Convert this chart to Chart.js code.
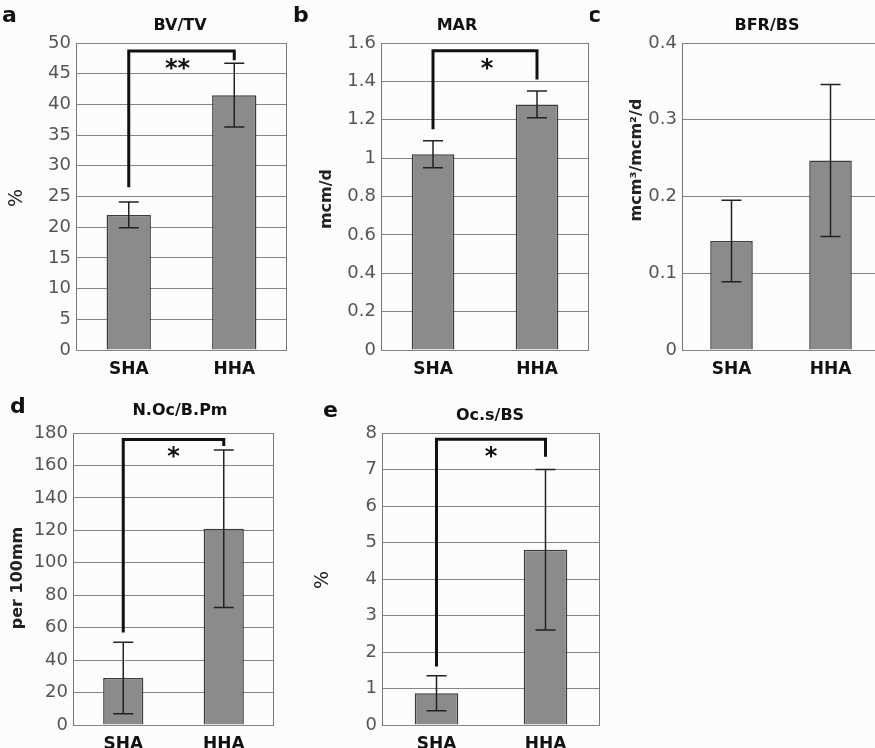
<!DOCTYPE html>
<html>
<head>
<meta charset="utf-8">
<script src="https://cdn.jsdelivr.net/npm/chart.js"></script>
<style>
  html, body { margin: 0; padding: 0; background: #fcfcfc; width: 875px; height: 748px; overflow: hidden; }
  .panel { position: absolute; }
</style>
</head>
<body>
<div class="panel" id="pa"><canvas id="ca"></canvas></div>
<div class="panel" id="pb"><canvas id="cb"></canvas></div>
<div class="panel" id="pc"><canvas id="cc"></canvas></div>
<div class="panel" id="pd"><canvas id="cd"></canvas></div>
<div class="panel" id="pe"><canvas id="ce"></canvas></div>
<script>
'use strict';

var categories = ['SHA', 'HHA'];

// a  BV/TV
var bvtvMean = [22, 41.5];
var bvtvErr = [2.1, 5.2];
var bvtvSig = [26.5, 48.7, 47.2];
// b  MAR
var marMean = [1.02, 1.28];
var marErr = [0.07, 0.07];
var marSig = [1.15, 1.56, 1.41];
// c  BFR/BS
var bfrMean = [0.142, 0.247];
var bfrErr = [0.053, 0.099];
// d  N.Oc/B.Pm
var nocMean = [29, 121];
var nocErr = [22, 48.5];
var nocSig = [57, 176, 172];
// e  Oc.s/BS
var ocsMean = [0.87, 4.8];
var ocsErr = [0.48, 2.2];
var ocsSig = [1.6, 7.83, 7.35];

var FONT = '"DejaVu Sans", "Liberation Sans", Arial, sans-serif';

var extras = {
  id: 'extras',
  afterDatasetsDraw: function(chart, args, o) {
    var ctx = chart.ctx;
    var area = chart.chartArea;
    var x = chart.scales.x;
    var y = chart.scales.y;
    var bx = o.box.x, by = o.box.y;
    ctx.save();

    // right frame line
    ctx.strokeStyle = '#777';
    ctx.lineWidth = 1;
    ctx.beginPath();
    ctx.moveTo(area.right - 0.5, area.top);
    ctx.lineTo(area.right - 0.5, area.bottom);
    ctx.stroke();

    // error bars
    ctx.strokeStyle = '#222';
    ctx.lineWidth = 1.5;
    o.values.forEach(function(v, i) {
      var cx = x.getPixelForValue(i);
      var hi = y.getPixelForValue(v + o.err[i]);
      var lo = y.getPixelForValue(v - o.err[i]);
      ctx.beginPath();
      ctx.moveTo(cx, hi); ctx.lineTo(cx, lo);
      ctx.moveTo(cx - 10, hi); ctx.lineTo(cx + 10, hi);
      ctx.moveTo(cx - 10, lo); ctx.lineTo(cx + 10, lo);
      ctx.stroke();
    });

    // significance bracket
    if (o.sig) {
      var x0 = x.getPixelForValue(0), x1 = x.getPixelForValue(1);
      var top = y.getPixelForValue(o.sig[1]);
      ctx.strokeStyle = '#111';
      ctx.lineWidth = 3;
      ctx.lineJoin = 'miter';
      ctx.beginPath();
      ctx.moveTo(x0, y.getPixelForValue(o.sig[0]));
      ctx.lineTo(x0, top);
      ctx.lineTo(x1, top);
      ctx.lineTo(x1, y.getPixelForValue(o.sig[2]));
      ctx.stroke();
      ctx.fillStyle = '#111';
      ctx.font = 'bold 24px ' + FONT;
      ctx.textAlign = 'center';
      ctx.textBaseline = 'alphabetic';
      ctx.fillText(o.stars, (x0 + x1) / 2 + o.starDx, top + 25);
    }

    // panel letter and title
    ctx.fillStyle = '#111';
    ctx.textAlign = 'left';
    ctx.textBaseline = 'alphabetic';
    ctx.font = 'bold 22px ' + FONT;
    ctx.fillText(o.letter[0], o.letter[1] - bx, o.letter[2] - by);
    ctx.textAlign = 'center';
    ctx.font = 'bold 16px ' + FONT;
    ctx.fillText(o.title[0], o.title[1] - bx, o.title[2] - by);

    // y axis title
    ctx.save();
    ctx.translate(o.yTitle[1] - bx, o.yTitle[2] - by);
    ctx.rotate(-Math.PI / 2);
    ctx.textBaseline = 'middle';
    ctx.font = (o.yTitleBold ? 'bold 16px ' : '19px ') + FONT;
    ctx.fillStyle = '#222';
    ctx.fillText(o.yTitle[0], 0, 0);
    ctx.restore();

    ctx.restore();
  }
};

function makePanel(divId, canvasId, p) {
  var div = document.getElementById(divId);
  div.style.left = p.box.x + 'px';
  div.style.top = p.box.y + 'px';
  var cv = document.getElementById(canvasId);
  cv.width = p.box.w;
  cv.height = p.box.h;
  var xH = 28;
  var ctx = cv.getContext('2d');
  return new Chart(ctx, {
    type: 'bar',
    data: {
      labels: categories,
      datasets: [{
        data: p.values,
        backgroundColor: '#8b8b8b',
        borderColor: '#3c3c3c',
        borderWidth: 1.5,
        barPercentage: p.barPct,
        categoryPercentage: 1
      }]
    },
    options: {
      responsive: false,
      animation: false,
      layout: {
        padding: {
          left: 0,
          top: p.area.t - p.box.y,
          right: p.box.x + p.box.w - p.area.r,
          bottom: p.box.y + p.box.h - p.area.b - xH
        }
      },
      plugins: {
        legend: { display: false },
        tooltip: { enabled: false },
        extras: p
      },
      scales: {
        x: {
          grid: { display: false, drawTicks: false },
          border: { display: false },
          ticks: { color: '#111', padding: 9, font: { family: FONT, size: 17, weight: 'bold' } },
          afterFit: function(s) { s.height = xH; }
        },
        y: {
          min: 0,
          max: p.max,
          ticks: {
            stepSize: p.step,
            color: '#555',
            padding: 5,
            font: { family: FONT, size: 18 },
            callback: function(v) { return String(+v.toFixed(2)); }
          },
          grid: { color: '#858585', lineWidth: 1, drawTicks: false },
          border: { display: true, color: '#777', width: 1 },
          afterFit: function(s) { s.width = p.area.l - p.box.x; }
        }
      }
    },
    plugins: [extras]
  });
}

makePanel('pa', 'ca', {
  box: { x: 0, y: 0, w: 292, h: 380 }, area: { l: 76, t: 43, r: 287, b: 350 },
  values: bvtvMean, err: bvtvErr, sig: bvtvSig, stars: '**', starDx: -4,
  max: 50, step: 5, barPct: 0.42,
  letter: ['a', 2, 22], title: ['BV/TV', 180, 30], yTitle: ['%', 17, 198], yTitleBold: false
});
makePanel('pb', 'cb', {
  box: { x: 292, y: 0, w: 298, h: 380 }, area: { l: 381, t: 43, r: 589, b: 350 },
  values: marMean, err: marErr, sig: marSig, stars: '*', starDx: 2,
  max: 1.6, step: 0.2, barPct: 0.41,
  letter: ['b', 293, 22], title: ['MAR', 457, 30], yTitle: ['mcm/d', 327, 199], yTitleBold: true
});
makePanel('pc', 'cc', {
  box: { x: 590, y: 0, w: 300, h: 380 }, area: { l: 682, t: 43, r: 880, b: 350 },
  values: bfrMean, err: bfrErr, sig: null,
  max: 0.4, step: 0.1, barPct: 0.43,
  letter: ['c', 588, 22], title: ['BFR/BS', 767, 30], yTitle: ['mcm\u00b3/mcm\u00b2/d', 637, 160], yTitleBold: true
});
makePanel('pd', 'cd', {
  box: { x: 0, y: 380, w: 292, h: 382 }, area: { l: 73, t: 433, r: 274, b: 725 },
  values: nocMean, err: nocErr, sig: nocSig, stars: '*', starDx: 0,
  max: 180, step: 20, barPct: 0.4,
  letter: ['d', 10, 413], title: ['N.Oc/B.Pm', 180, 415], yTitle: ['per 100mm', 18, 578], yTitleBold: true
});
makePanel('pe', 'ce', {
  box: { x: 292, y: 380, w: 320, h: 382 }, area: { l: 382, t: 433, r: 600, b: 725 },
  values: ocsMean, err: ocsErr, sig: ocsSig, stars: '*', starDx: 0,
  max: 8, step: 1, barPct: 0.4,
  letter: ['e', 323, 417], title: ['Oc.s/BS', 490, 420], yTitle: ['%', 323, 580], yTitleBold: false
});
</script>
</body>
</html>
